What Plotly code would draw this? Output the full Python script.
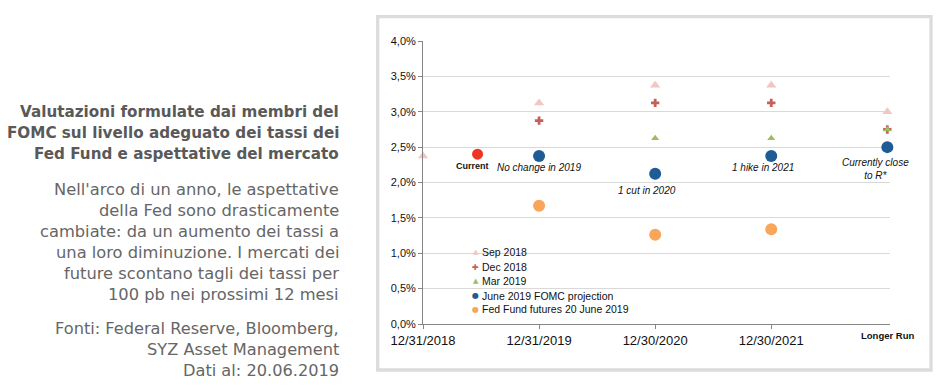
import plotly.graph_objects as go

# ---------------- data ----------------
x_positions = [0, 1, 2, 3, 4]
date_labels = ["12/31/2018", "12/31/2019", "12/30/2020", "12/30/2021"]
longer_run_label = "Longer Run"

sep_2018 = [2.375, 3.125, 3.375, 3.375, 3.0]
dec_2018 = [None, 2.875, 3.125, 3.125, 2.75]
mar_2019 = [None, 2.375, 2.625, 2.625, 2.75]
jun_2019 = [None, 2.375, 2.125, 2.375, 2.5]
futures_jun_2019 = [None, 1.67, 1.26, 1.34, None]
current_x = [0.47]
current_rate = [2.40]

y_ticks = [0, 0.5, 1.0, 1.5, 2.0, 2.5, 3.0, 3.5, 4.0]
y_tick_labels = ["0,0%", "0,5%", "1,0%", "1,5%", "2,0%", "2,5%", "3,0%", "3,5%", "4,0%"]

series_names = ["Sep 2018", "Dec 2018", "Mar 2019", "June 2019 FOMC projection",
                "Fed Fund futures 20 June 2019"]

title_lines = ["Valutazioni formulate dai membri del",
               "FOMC sul livello adeguato dei tassi dei",
               "Fed Fund e aspettative del mercato"]
body_lines = ["Nell'arco di un anno, le aspettative",
              "della Fed sono drasticamente",
              "cambiate: da un aumento dei tassi a",
              "una loro diminuzione. I mercati dei",
              "future scontano tagli dei tassi per",
              "100 pb nei prossimi 12 mesi"]
source_lines = ["Fonti: Federal Reserve, Bloomberg,",
                "SYZ Asset Management",
                "Dati al: 20.06.2019"]

# ---------------- styles ----------------
C_SEP = "#f2c6c2"
C_DEC = "#c65f5a"
C_MAR = "#9dbb5f"
C_JUN = "#1f5b94"
C_FUT = "#f7a65c"
C_CUR = "#ee3424"

W, H = 944, 391
PL, PR, PT, PB = 423, 890, 41, 324


def px(xp):
    return (xp - PL) / (PR - PL)


def py(yp):
    return (PB - yp) / (PB - PT)


CHART_FONT = "Liberation Sans, Arial, sans-serif"
TEXT_FONT = "DejaVu Sans, Verdana, sans-serif"

fig = go.Figure()

fig.add_trace(go.Scatter(x=x_positions, y=sep_2018, mode="markers", name=series_names[0],
                         marker=dict(symbol="triangle-up", size=9, color=C_SEP),
                         cliponaxis=False, showlegend=False))
fig.add_trace(go.Scatter(x=x_positions, y=dec_2018, mode="markers", name=series_names[1],
                         marker=dict(symbol="cross", size=7, color=C_DEC),
                         cliponaxis=False, showlegend=False))
fig.add_trace(go.Scatter(x=x_positions, y=mar_2019, mode="markers", name=series_names[2],
                         marker=dict(symbol="triangle-up", size=7, color=C_MAR),
                         cliponaxis=False, showlegend=False))
fig.add_trace(go.Scatter(x=x_positions, y=jun_2019, mode="markers", name=series_names[3],
                         marker=dict(symbol="circle", size=12, color=C_JUN),
                         cliponaxis=False, showlegend=False))
fig.add_trace(go.Scatter(x=x_positions, y=futures_jun_2019, mode="markers", name=series_names[4],
                         marker=dict(symbol="circle", size=12, color=C_FUT),
                         cliponaxis=False, showlegend=False))
fig.add_trace(go.Scatter(x=current_x, y=current_rate, mode="markers", name="Current",
                         marker=dict(symbol="circle", size=11, color=C_CUR),
                         cliponaxis=False, showlegend=False))

annotations = []

# left text block
for i, t in enumerate(title_lines):
    annotations.append(dict(text="<b>" + t + "</b>", xref="paper", yref="paper",
                            x=px(341), y=py([111.7, 132.7, 153.5][i]),
                            xanchor="right", yanchor="middle", showarrow=False,
                            font=dict(family=TEXT_FONT, size=15.2, color="#595959")))
for i, t in enumerate(body_lines):
    annotations.append(dict(text=t, xref="paper", yref="paper",
                            x=px(341), y=py(189.3 + 21 * i),
                            xanchor="right", yanchor="middle", showarrow=False,
                            font=dict(family=TEXT_FONT, size=16.3, color="#666666")))
for i, t in enumerate(source_lines):
    annotations.append(dict(text=t, xref="paper", yref="paper",
                            x=px(341), y=py([328.3, 349.3, 370.2][i]),
                            xanchor="right", yanchor="middle", showarrow=False,
                            font=dict(family=TEXT_FONT, size=16.2, color="#666666")))

# point labels
annotations.append(dict(text="<b>Current</b>", xref="x", yref="paper",
                        x=current_x[0] - 0.04, y=py(166), xanchor="center", yanchor="middle",
                        showarrow=False, font=dict(family=CHART_FONT, size=9, color="#111111")))
annotations.append(dict(text="<i>No change in 2019</i>", xref="x", yref="paper",
                        x=x_positions[1], y=py(167.7), xanchor="center", yanchor="middle",
                        showarrow=False, font=dict(family=CHART_FONT, size=10, color="#111111")))
annotations.append(dict(text="<i>1 cut in 2020</i>", xref="x", yref="paper",
                        x=x_positions[2] - 0.07, y=py(190.7), xanchor="center", yanchor="middle",
                        showarrow=False, font=dict(family=CHART_FONT, size=10, color="#111111")))
annotations.append(dict(text="<i>1 hike in 2021</i>", xref="x", yref="paper",
                        x=x_positions[3] - 0.07, y=py(167.7), xanchor="center", yanchor="middle",
                        showarrow=False, font=dict(family=CHART_FONT, size=10, color="#111111")))
annotations.append(dict(text="<i>Currently close<br>to R*</i>", xref="x", yref="paper",
                        x=x_positions[4] - 0.1, y=py(169), xanchor="center", yanchor="middle",
                        align="center", showarrow=False,
                        font=dict(family=CHART_FONT, size=10, color="#111111")))

# Longer Run axis label
annotations.append(dict(text="<b>" + longer_run_label + "</b>", xref="x", yref="paper",
                        x=x_positions[4], y=py(335.7), xanchor="center", yanchor="middle",
                        showarrow=False, font=dict(family=CHART_FONT, size=9.5, color="#111111")))

# manual legend
legend_rows = [252.3, 267.3, 281.0, 295.5, 309.2]
legend_glyphs = [("▲", C_SEP, 7), ("✚", C_DEC, 8), ("▲", C_MAR, 7), ("●", C_JUN, 8), ("●", C_FUT, 8)]
for name, yrow, (g, c, s) in zip(series_names, legend_rows, legend_glyphs):
    annotations.append(dict(text=g, xref="paper", yref="paper", x=px(475.5), y=py(yrow),
                            xanchor="center", yanchor="middle", showarrow=False,
                            font=dict(family="DejaVu Sans", size=s, color=c)))
    annotations.append(dict(text=name, xref="paper", yref="paper", x=px(479.5), y=py(yrow),
                            xanchor="left", yanchor="middle", showarrow=False,
                            font=dict(family=CHART_FONT, size=10.5, color="#111111")))

shapes = [dict(type="rect", xref="paper", yref="paper",
               x0=px(377.7), x1=px(931), y0=py(370), y1=py(16.7),
               line=dict(color="#dcdcdc", width=3.3), fillcolor="rgba(0,0,0,0)", layer="below")]

fig.update_layout(
    width=W, height=H,
    margin=dict(l=PL, r=W - PR, t=PT, b=H - PB, pad=0),
    paper_bgcolor="white", plot_bgcolor="white",
    showlegend=False,
    annotations=annotations,
    shapes=shapes,
    xaxis=dict(range=[0, 4.023], tickvals=x_positions[:4], ticktext=date_labels,
               showgrid=False, zeroline=False, showline=True, linecolor="#868686", linewidth=1,
               ticks="outside", ticklen=4, tickcolor="#868686",
               tickfont=dict(family=CHART_FONT, size=13, color="#111111")),
    yaxis=dict(range=[0, 4.0], tickmode="array", tickvals=y_ticks, ticktext=y_tick_labels,
               showgrid=True, gridcolor="#d9d9d9", gridwidth=1, zeroline=False,
               showline=True, linecolor="#868686", linewidth=1,
               ticks="outside", ticklen=4, tickcolor="#868686",
               tickfont=dict(family=CHART_FONT, size=11, color="#111111")),
)

fig.write_html("out.html", config={"displayModeBar": False},
               post_script="document.body.style.margin='0';document.body.style.overflow='hidden';")
